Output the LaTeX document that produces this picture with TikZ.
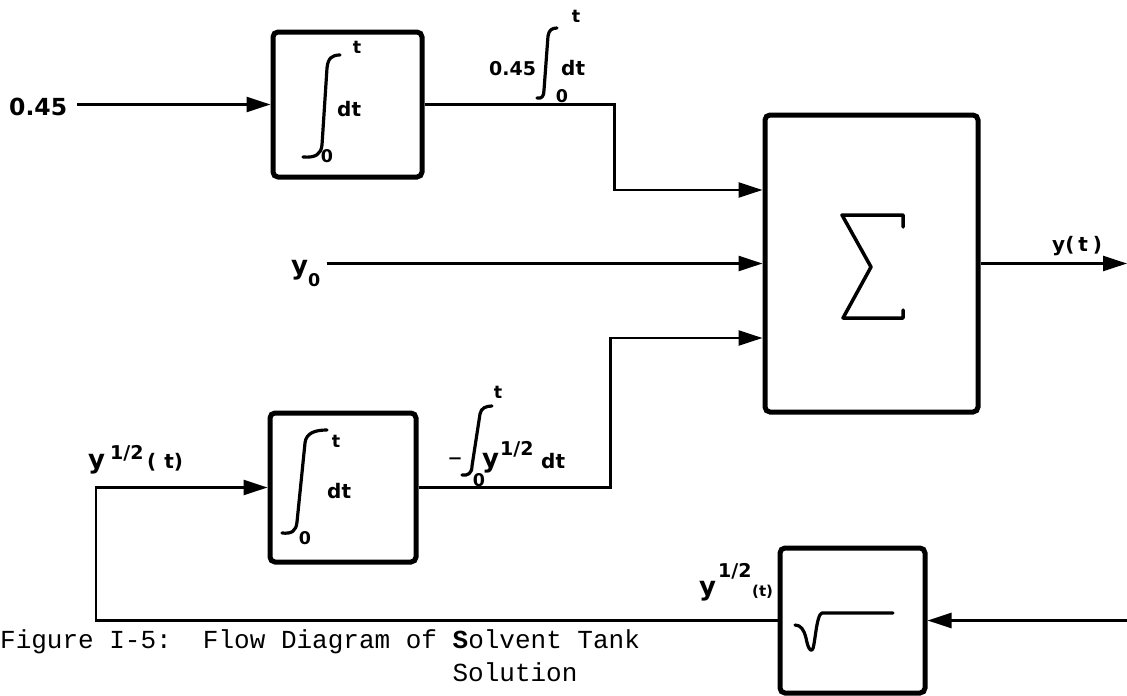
\documentclass[tikz,border=0pt]{standalone}
\usepackage{fontspec}
\setmainfont{DejaVu Sans}
\newfontfamily\capfont{Liberation Mono}
\usetikzlibrary{arrows.meta,calc}
\begin{document}
\begin{tikzpicture}[x=1pt,y=-1pt,
  blk/.style={draw, line width=5pt, rounded corners=5pt, inner sep=0pt},
  conn/.style={line width=2.5pt},
  arr/.style={conn, -{Triangle[length=24pt,width=15pt]}},
  glyph/.style={line width=3.2pt, line cap=round, line join=round},
  lbl/.style={inner sep=0pt, anchor=base west, font=\bfseries\fontsize{20}{22}\selectfont},
  lim/.style={inner sep=0pt, anchor=base, font=\bfseries\fontsize{17.5}{19}\selectfont},
  ylet/.style={lbl, font=\bfseries\fontsize{26}{28}\selectfont},
  expo/.style={lbl, font=\bfseries\fontsize{19}{21}\selectfont},
  captext/.style={inner sep=0pt, anchor=base west, font=\capfont\fontsize{26}{33}\selectfont},
]
\useasboundingbox (0,0) rectangle (1127,696);

% blocks
\node[blk, minimum width=149pt, minimum height=145pt] (box1) at (347.5,104.5) {};
\node[blk, minimum width=146pt, minimum height=149pt] (box2) at (343,487.5) {};
\node[blk, minimum width=213pt, minimum height=297pt] (sum) at (871.5,263.5) {};
\node[blk, minimum width=145pt, minimum height=145pt] (sq) at (852.5,620.5) {};

% integrator 1 contents
\draw[glyph] (303,157) .. controls (316,158) and (321,154) .. (322,145) -- (327,68) .. controls (328,58) and (332,55) .. (340,55);
\node[lim] (b1t) at (357,53) {t};
\node[lim] (b1o) at (327,162) {0};
\node[lbl] (b1d) at (337,116) {dt};

% integrator 2 contents
\draw[glyph] (282,533) .. controls (292,534) and (296,531) .. (297,522) -- (305,443) .. controls (306,433) and (315,430) .. (327,430);
\node[lim] (b2t) at (336,447) {t};
\node[lim] (b2o) at (305,544) {0};
\node[lbl] (b2d) at (327,498) {dt};

% sigma
\draw[line width=3.5pt, line cap=round, line join=round] (903,227) -- (903,215) -- (842,215) -- (871,267) -- (843,318) -- (903,318) -- (903,310);

% square root
\draw[glyph] (795,625) .. controls (801,625) and (804,630) .. (806,638) .. controls (808,648) and (810,651) .. (812,650) .. controls (815,649) and (816,614) .. (822,613) -- (893,613);

% input 0.45
\node[lbl, font=\bfseries\fontsize{23.5}{26}\selectfont] (in045) at (9,115) {0.45};
\draw[arr] ($(in045.east |- box1.west)+(10,0)$) -- (box1.west);

% label 0.45 int dt
\node[lbl, font=\bfseries\fontsize{19}{21}\selectfont] (l1a) at (489,75) {0.45};
\draw[glyph] (537,98) .. controls (542,99) and (544,96) .. (544,90) -- (548,36) .. controls (549,30) and (552,28) .. (557,28);
\node[lim] (l1t) at (576,22) {t};
\node[lim] (l1o) at (562,102) {0};
\node[lbl] (l1d) at (561,75) {dt};

% y0
\node[ylet] (y0) at (291,274) {y};
\node[lim, anchor=base west] (y0s) at (308,286) {0};
\draw[arr] ($(y0s.east |- sum.west)+(6,0)$) -- (sum.west);

% label - int y^1/2 dt
\node[lbl, anchor=base, font=\fontsize{28}{30}\selectfont] (mn) at (455,466) {–};
\draw[glyph] (462,475) .. controls (468,476) and (472,473) .. (472,466) -- (480,414) .. controls (481,408) and (486,406) .. (492,406);
\node[lim] (l2t) at (498,398) {t};
\node[lim] (l2o) at (479,486) {0};
\node[ylet] (l2y) at (482,467) {y};
\node[expo] (l2e) at (500,455) {1/2};
\node[lbl] (l2d) at (541,468) {dt};

% connectors to sum
\draw[arr] (box1.east) -- ++(190,0) |- ($(sum.west)+(0,-73.5)$);
\draw[arr] (box2.east) -- ++(192,0) |- ($(sum.west)+(0,74.5)$);

% output
\coordinate (yout) at (1127,263.5);
\draw[arr] (sum.east) -- (yout);
\node[lbl] (yt) at (1052,251) {y(\hspace{4pt}t\hspace{5pt})};

% sqrt input and feedback
\coordinate (sqin) at (1127,620.5);
\draw[arr] (sqin) -- (sq.east);
\coordinate (fb) at (96,620.5);
\draw[arr] (sq.west) -- (fb) |- (box2.west);

% y^1/2(t) labels
\node[ylet] (fy) at (88,468) {y};
\node[expo] (fe) at (110,459) {1/2};
\node[lbl] (fp) at (147,468) {(\hspace{8pt}t)};

\node[ylet] (sy) at (699,595) {y};
\node[expo] (se) at (718,577) {1/2};
\node[lbl, font=\bfseries\fontsize{15}{17}\selectfont] (sp) at (752,596) {(t)};

% caption
\node[captext] (cap1) at (0,648) {Figure I-5:\ \ Flow Diagram of \textbf{S}olvent Tank};
\node[captext] (cap2) at (452.4,681) {Solution};
\end{tikzpicture}
\end{document}
